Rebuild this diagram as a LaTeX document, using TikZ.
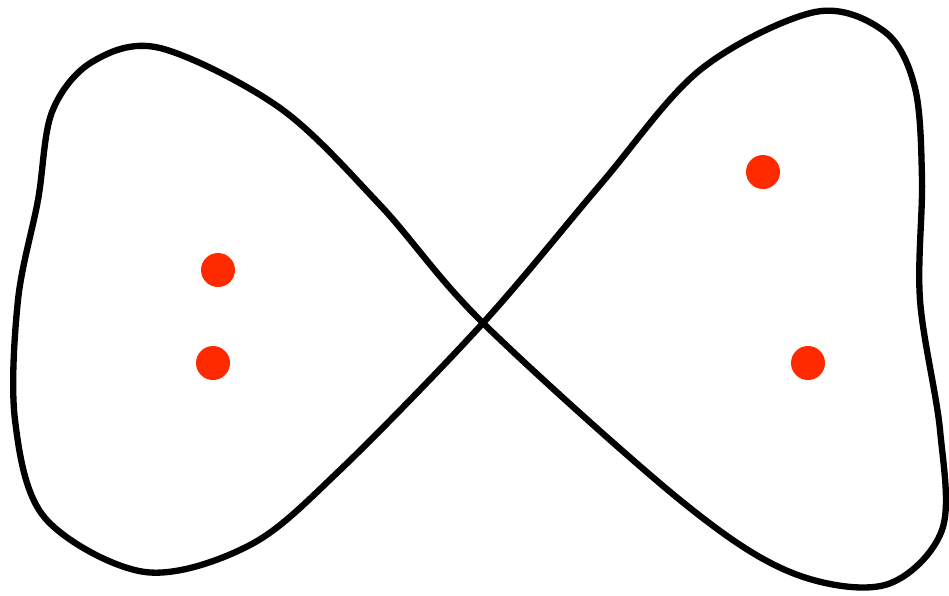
\documentclass[tikz,border=0pt]{standalone}
\usepackage{xcolor,tikz}
\definecolor{dotred}{HTML}{FF2A00}
\tikzset{curve/.style={draw=black,line width=3.6pt,line join=round},pin/.style={fill=dotred}}

\begin{document}
\begin{tikzpicture}[x=0.02cm,y=-0.02cm]
\useasboundingbox (0,0) rectangle (949,595);
\draw[curve] plot[smooth cycle,tension=0.55] coordinates {(483,323) (380,205) (280,108) (160,48) (92,62) (52,112) (38,200) (18,300) (15,420) (45,518) (145,572) (250,545) (340,470) (483,323) (600,185) (700,70) (815,12) (885,32) (915,88) (922,180) (920,300) (940,430) (942,530) (885,585) (790,572) (680,500)};
\foreach \x/\y in {218/270,213/363,763/172,808/363}{\fill[pin] (\x,\y) circle (17);}
\end{tikzpicture}
\end{document}
